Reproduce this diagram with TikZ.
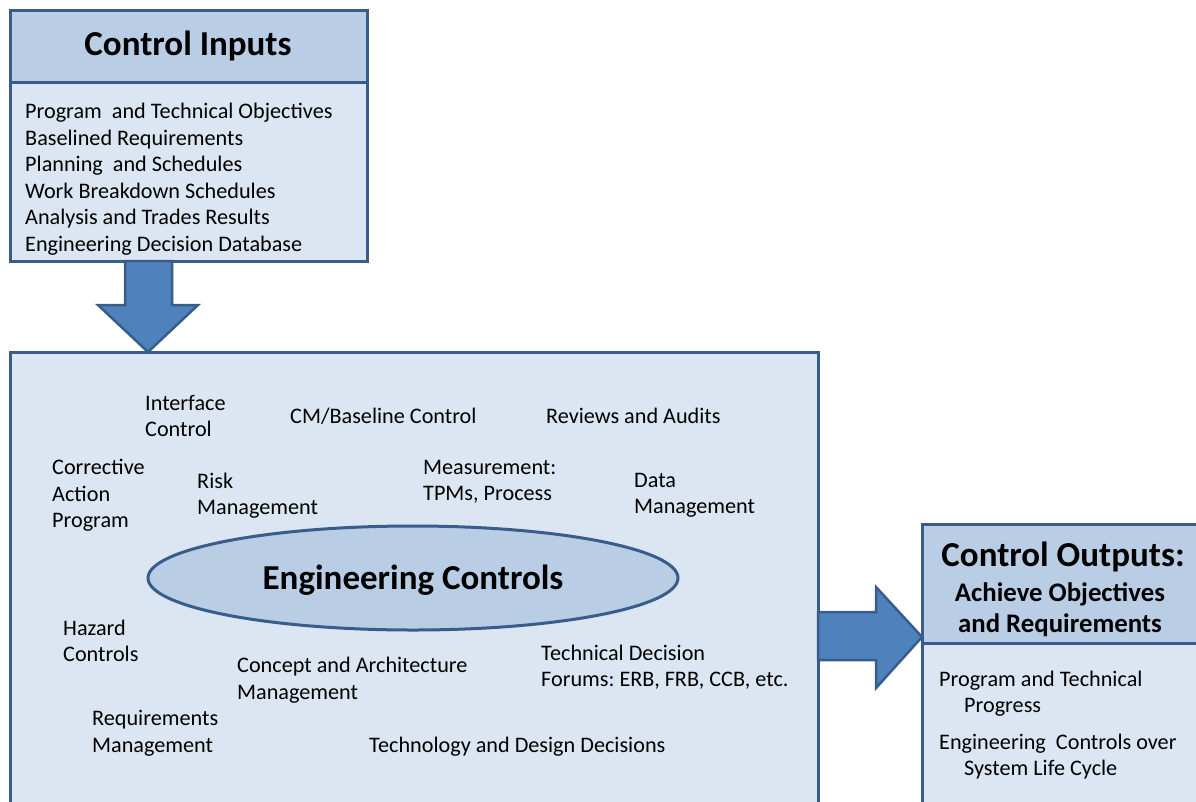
\documentclass[tikz,border=0pt]{standalone}
\usepackage{fontspec}
\setmainfont{Carlito}
\frenchspacing
\usetikzlibrary{shapes.geometric}
\definecolor{bord}{HTML}{385D8A}
\definecolor{headfill}{HTML}{B9CDE5}
\definecolor{bodyfill}{HTML}{DCE6F2}
\definecolor{arrowfill}{HTML}{4F81BD}
\tikzset{
  box/.style={draw=bord, line width=3pt},
  blockarrow/.style={draw=bord, line width=2.5pt, fill=arrowfill, line join=miter},
  lbl/.style={anchor=west, inner sep=0pt, align=left, yshift=-2pt, font=\fontsize{22.2}{26.5}\selectfont\frenchspacing},
  ttl/.style={inner sep=0pt, align=center, yshift=-2pt, font=\fontsize{35}{40}\selectfont\bfseries},
  subttl/.style={inner sep=0pt, align=center, yshift=-2pt, font=\fontsize{26.8}{31}\selectfont\bfseries},
}
\begin{document}
\begin{tikzpicture}[x=1pt,y=-1pt]
\useasboundingbox (0,0) rectangle (1196,801);
% Control inputs box
\fill[headfill] (10,10) rectangle (367,82);
\fill[bodyfill] (10,82) rectangle (367,261);
\draw[box] (10,82) -- (367,82);
\draw[box] (10,10) rectangle (367,261);
\node[ttl] (inTitle) at (188,44) {Control Inputs};
\node[lbl, anchor=north west] (inList) at (25,101) {Program~ and Technical Objectives\\Baselined Requirements\\Planning~ and Schedules\\Work Breakdown Schedules\\Analysis and Trades Results\\Engineering Decision Database};
% Down arrow
\draw[blockarrow] (125,261) -- (172,261) -- (172,305) -- (198,305) -- (148,352) -- (98,305) -- (125,305) -- cycle;
% Main box
\draw[box, fill=bodyfill] (10,352) rectangle (818,812);
\node[ellipse, draw=bord, line width=3pt, fill=headfill, minimum width=530pt, minimum height=104pt, inner sep=0pt] (ell) at (413,578) {};
\node[ttl] (engTitle) at (413,578) {Engineering Controls};
\node[lbl] (iface) at (145,414) {Interface\\Control};
\node[lbl] (cm) at (290,414) {CM/Baseline Control};
\node[lbl] (rev) at (546,414) {Reviews and Audits};
\node[lbl] (corr) at (52,493.5) {Corrective\\Action\\Program};
\node[lbl] (risk) at (197,493.5) {Risk\\Management};
\node[lbl] (meas) at (423,480) {Measurement:\\TPMs, Process};
\node[lbl] (data) at (634,493.5) {Data\\Management};
\node[lbl] (haz) at (63,639) {Hazard\\Controls};
\node[lbl] (conc) at (237,678) {Concept and Architecture\\Management};
\node[lbl] (tech) at (541,665) {Technical Decision\\Forums: ERB, FRB, CCB, etc.};
\node[lbl] (req) at (92,731.5) {Requirements\\Management};
\node[lbl] (tdd) at (369,745) {Technology and Design Decisions};
% Right arrow
\draw[blockarrow] (818,612) -- (876,612) -- (876,587) -- (922,637) -- (876,688) -- (876,660) -- (818,660) -- cycle;
% Output box
\fill[headfill] (922,524) rectangle (1205,643);
\fill[bodyfill] (922,643) rectangle (1205,812);
\draw[box] (922,643) -- (1205,643);
\draw[box] (922,524) rectangle (1205,812);
\node[ttl] (outTitle) at (1063,555) {Control Outputs:};
\node[subttl] (outSub) at (1060,607.5) {Achieve Objectives\\and Requirements};
\node[lbl] (out1) at (939,691.5) {Program and Technical\\\hspace*{25pt}Progress};
\node[lbl] (out2) at (939,754.5) {Engineering~ Controls over\\\hspace*{25pt}System Life Cycle};
\end{tikzpicture}
\end{document}
